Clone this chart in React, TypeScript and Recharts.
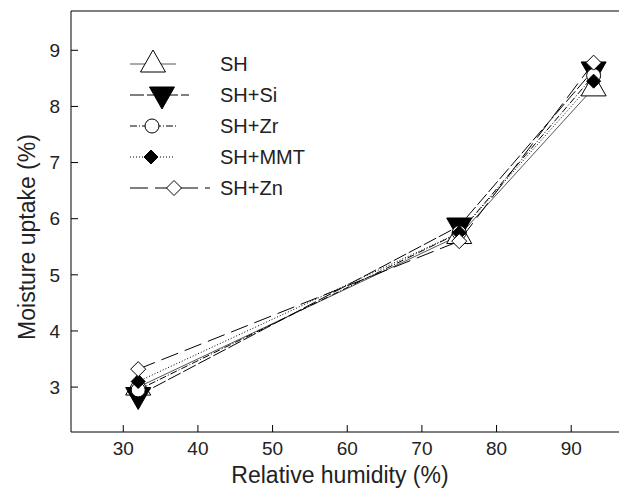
import { LineChart, Line, XAxis, YAxis, ReferenceLine } from "recharts";

const humidity = [32, 75, 93];
const sh = [3.0, 5.7, 8.33];
const shSi = [2.85, 5.87, 8.65];
const shZr = [2.95, 5.75, 8.55];
const shMmt = [3.1, 5.75, 8.45];
const shZn = [3.32, 5.6, 8.78];

const xTicks = [30, 40, 50, 60, 70, 80, 90];
const yTicks = [3, 4, 5, 6, 7, 8, 9];

const data = humidity.map((h, i) => ({
    rh: h,
    sh: sh[i],
    shSi: shSi[i],
    shZr: shZr[i],
    shMmt: shMmt[i],
    shZn: shZn[i],
}));

const FONT = "Liberation Sans, Arial, Helvetica, sans-serif";

type Shape = "triUp" | "triDown" | "circle" | "diamondFilled" | "diamondOpen";

const drawMarker = (shape: Shape, cx: number, cy: number, key?: string) => {
    switch (shape) {
        case "triUp":
            return <polygon key={key} points={`${cx},${cy - 14} ${cx - 12.5},${cy + 8} ${cx + 12.5},${cy + 8}`} fill="#fff" stroke="#000" strokeWidth={1} />;
        case "triDown":
            return <polygon key={key} points={`${cx - 12.5},${cy - 8} ${cx + 12.5},${cy - 8} ${cx},${cy + 14}`} fill="#000" stroke="#000" strokeWidth={1} />;
        case "circle":
            return <circle key={key} cx={cx} cy={cy} r={7} fill="#fff" stroke="#000" strokeWidth={1} />;
        case "diamondFilled":
            return <polygon key={key} points={`${cx},${cy - 7} ${cx + 7},${cy} ${cx},${cy + 7} ${cx - 7},${cy}`} fill="#000" stroke="#000" strokeWidth={1} />;
        case "diamondOpen":
            return <polygon key={key} points={`${cx},${cy - 7.5} ${cx + 7.5},${cy} ${cx},${cy + 7.5} ${cx - 7.5},${cy}`} fill="#fff" stroke="#000" strokeWidth={1} />;
    }
}

const series = [
    { key: "sh", name: "SH", shape: "triUp" as Shape, stroke: "#555", dash: undefined, lineFrom: 130, lineTo: 176, mx: 153 },
    { key: "shSi", name: "SH+Si", shape: "triDown" as Shape, stroke: "#000", dash: "14 3", lineFrom: 130, lineTo: 189, mx: 162 },
    { key: "shZr", name: "SH+Zr", shape: "circle" as Shape, stroke: "#000", dash: "7 2 1 2", lineFrom: 130, lineTo: 176, mx: 152 },
    { key: "shMmt", name: "SH+MMT", shape: "diamondFilled" as Shape, stroke: "#000", dash: "1 2", lineFrom: 130, lineTo: 174, mx: 151 },
    { key: "shZn", name: "SH+Zn", shape: "diamondOpen" as Shape, stroke: "#000", dash: "18 7", lineFrom: 130, lineTo: 210, mx: 174 },
];

const LegendBox = () => (
    <svg width={220} height={160} style={{ position: "absolute", left: 100, top: 40 }}>
        {series.map((s, i) => {
            const y = 24 + i * 31;
            return (
                <g key={s.key}>
                    <line x1={s.lineFrom - 100} x2={s.lineTo - 100} y1={y} y2={y} stroke={s.stroke} strokeDasharray={s.dash} />
                    {drawMarker(s.shape, s.mx - 100, y)}
                    <text x={120} y={y + 7} fontSize={20} fontFamily={FONT} fill="#222">{s.name}</text>
                </g>
            );
        })}
    </svg>
);

function App() {
    return (
        <div style={{ position: "absolute", left: 0, top: 0, width: 619, height: 490, overflow: "hidden", background: "#fff" }}>
            <LineChart width={619} height={490} data={data} margin={{ top: 11, right: 0, bottom: 0, left: 0 }}>
                <XAxis
                    dataKey="rh"
                    type="number"
                    domain={[23, 96.4]}
                    ticks={xTicks}
                    height={58}
                    stroke="#000"
                    tickSize={-7}
                    tickMargin={17}
                    tick={{ fontSize: 19, fontFamily: FONT, fill: "#222" }}
                    allowDataOverflow
                    label={() => (
                        <text x={340} y={483} textAnchor="middle" fontSize={23} fontFamily={FONT} fill="#222">Relative humidity (%)</text>
                    )}
                />
                <YAxis
                    type="number"
                    domain={[2.2, 9.7]}
                    ticks={yTicks}
                    width={71}
                    stroke="#000"
                    tickSize={-7}
                    tickMargin={18}
                    tick={{ fontSize: 19, fontFamily: FONT, fill: "#222" }}
                    allowDataOverflow
                    label={() => (
                        <text x={35} y={237} transform="rotate(-90 35 237)" textAnchor="middle" fontSize={23} fontFamily={FONT} fill="#222">Moisture uptake (%)</text>
                    )}
                />
                <ReferenceLine y={9.7} stroke="#000" />
                {series.map(s => (
                    <Line
                        key={s.key}
                        dataKey={s.key}
                        name={s.name}
                        stroke={s.stroke}
                        strokeWidth={1}
                        strokeDasharray={s.dash}
                        isAnimationActive={false}
                        dot={(p: any) => drawMarker(s.shape, p.cx, p.cy, `${s.key}-${p.index}`)}
                        activeDot={false}
                    />
                ))}
            </LineChart>
            <LegendBox />
        </div>
    );
}

export default App
